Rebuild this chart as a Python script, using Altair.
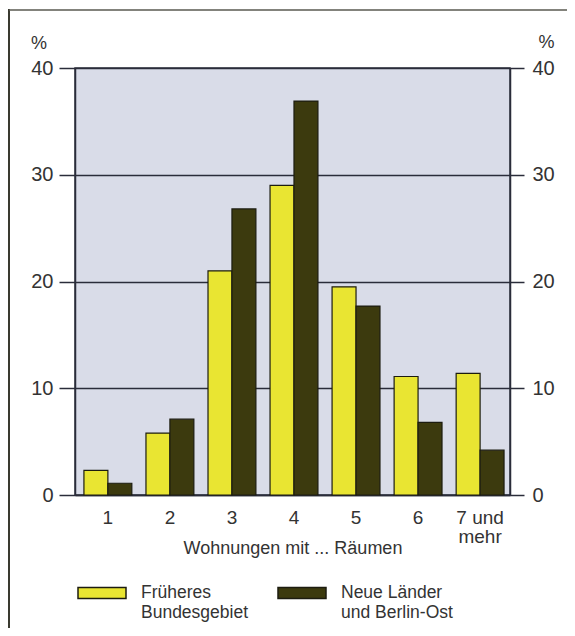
import altair as alt
import pandas as pd

# ---- data ----
categories = ["1", "2", "3", "4", "5", "6", "7 und mehr"]
frueheres_bundesgebiet = [2.3, 5.8, 21.0, 29.0, 19.5, 11.1, 11.4]
neue_laender = [1.1, 7.1, 26.8, 36.9, 17.7, 6.8, 4.2]
series = ["Früheres Bundesgebiet", "Neue Länder und Berlin-Ost"]
y_ticks = [0, 10, 20, 30, 40]
colors = ["#e9e532", "#3c3a0e"]

rows = []
for c, a, b in zip(categories, frueheres_bundesgebiet, neue_laender):
    rows.append({"raeume": c, "serie": series[0], "wert": a})
    rows.append({"raeume": c, "serie": series[1], "wert": b})
df = pd.DataFrame(rows)

FONT = "Liberation Sans"
TXT = "#333333"
LINE = "#2a2c3a"
W, H = 435, 427

x_enc = alt.X(
    "raeume:N", sort=categories,
    scale=alt.Scale(paddingInner=0.228, paddingOuter=0.12, align=0.6),
    axis=alt.Axis(
        title="Wohnungen mit ... Räumen", labelAngle=0, ticks=False, tickSize=0,
        domain=True, domainColor=LINE, domainWidth=1.5,
        labelExpr="datum.value == '7 und mehr' ? ['7 und', 'mehr'] : datum.label",
        labelPadding=13, labelFontSize=19, labelLineHeight=19, labelColor=TXT,
        labelFont=FONT, titleFont=FONT, titleFontSize=18, titleFontWeight="normal",
        titleColor=TXT, titleY=53, titleBaseline="middle",
    ),
)
xoff_enc = alt.XOffset("serie:N", sort=series, scale=alt.Scale(paddingInner=0, paddingOuter=0))

label_expr_legend = (
    "datum.value == 'Früheres Bundesgebiet' ? ['Früheres', 'Bundesgebiet'] : "
    "['Neue Länder', 'und Berlin-Ost']"
)

bars = alt.Chart(df).mark_bar(stroke="#1c1c10", strokeWidth=1.2).encode(
    x=x_enc,
    xOffset=xoff_enc,
    y=alt.Y(
        "wert:Q", scale=alt.Scale(domain=[0, 40], nice=False),
        axis=alt.Axis(
            orient="left", values=y_ticks, title="%", titleAngle=0,
            titleX=-36.5, titleY=-25, titleAlign="center", titleBaseline="middle",
            titleFont=FONT, titleFontSize=18, titleFontWeight="normal", titleColor=TXT,
            grid=True, gridColor=LINE, gridWidth=1.5,
            domain=True, domainColor=LINE, domainWidth=1.5,
            ticks=True, tickSize=16, tickColor=LINE, tickWidth=1.5,
            labelPadding=6, labelFont=FONT, labelFontSize=20, labelColor=TXT,
        ),
    ),
    color=alt.Color(
        "serie:N", sort=series,
        scale=alt.Scale(domain=series, range=colors),
        legend=alt.Legend(
            title=None, orient="none", legendX=2, legendY=500,
            direction="horizontal", columns=2, columnPadding=26,
            symbolType="M-1,-0.229H1V0.229H-1Z", symbolSize=2304,
            symbolStrokeColor="#1c1c10", symbolStrokeWidth=1.5, symbolOpacity=1,
            labelExpr=label_expr_legend, labelFont=FONT, labelFontSize=17.5,
            labelColor=TXT, labelOffset=14, labelLimit=300,
            labelBaseline="middle", padding=0,
        ),
    ),
)

right_axis = alt.Chart(df).mark_bar(opacity=0).encode(
    x=x_enc,
    xOffset=xoff_enc,
    y=alt.Y(
        "wert:Q", scale=alt.Scale(domain=[0, 40], nice=False),
        axis=alt.Axis(
            orient="right", values=y_ticks, title="%", titleAngle=0,
            titleX=36, titleY=-26, titleAlign="center", titleBaseline="middle",
            titleFont=FONT, titleFontSize=18, titleFontWeight="normal", titleColor=TXT,
            grid=False, domain=True, domainColor=LINE, domainWidth=1.5,
            ticks=True, tickSize=14, tickColor=LINE, tickWidth=1.5,
            labelPadding=8, labelFont=FONT, labelFontSize=20, labelColor=TXT,
        ),
    ),
)

frame_df = pd.DataFrame({"k": [0]})
left_border = alt.Chart(frame_df).mark_rule(color="#3a3a30", strokeWidth=2).encode(
    x=alt.value(-66), y=alt.value(-59), y2=alt.value(565)
)
top_border = alt.Chart(frame_df).mark_rule(color="#5a5a50", strokeWidth=1.5).encode(
    x=alt.value(-66), x2=alt.value(495), y=alt.value(-58)
)

chart = (
    alt.layer(left_border, top_border, bars, right_axis)
    .resolve_axis(y="independent")
    .properties(
        width=W, height=H,
        autosize=alt.AutoSizeParams(type="none"),
        padding={"left": 67, "top": 60, "right": 57, "bottom": 133},
        background="white",
    )
    .configure_view(fill="#d9dce8", stroke=LINE, strokeWidth=1.5)
)

chart.save("out.html", embed_options={"renderer": "svg", "actions": False})
